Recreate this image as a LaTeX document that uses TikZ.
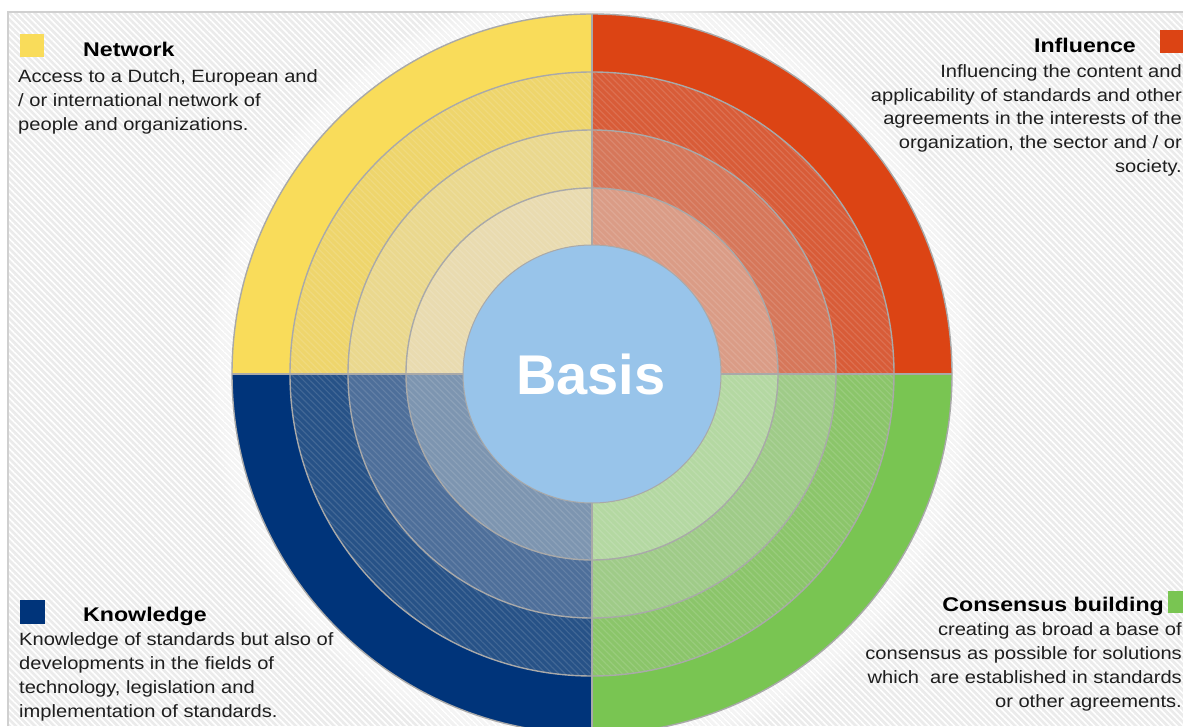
\documentclass[tikz,border=0pt]{standalone}
\usepackage{fontspec}
\setmainfont{Liberation Sans}
\newfontfamily\bodyfont[FakeStretch=1.13]{Liberation Sans}
\newfontfamily\titlefont[FakeStretch=1.17]{Liberation Sans}
\usetikzlibrary{patterns.meta}
\definecolor{bgc}{HTML}{EBEBEB}
\definecolor{linec}{HTML}{D0D0D0}
\definecolor{ringc}{HTML}{A9A9A9}
\definecolor{txtc}{HTML}{1E1E1E}
\definecolor{yA}{HTML}{F9DC5A}\definecolor{yB}{HTML}{EED56C}\definecolor{yC}{HTML}{EAD88E}\definecolor{yD}{HTML}{E9DBB0}
\definecolor{rA}{HTML}{DC4414}\definecolor{rB}{HTML}{D85C38}\definecolor{rC}{HTML}{D6775A}\definecolor{rD}{HTML}{DA9C86}
\definecolor{gA}{HTML}{79C552}\definecolor{gB}{HTML}{8BC56A}\definecolor{gC}{HTML}{9FCB88}\definecolor{gD}{HTML}{B4D8A2}
\definecolor{bA}{HTML}{00347A}\definecolor{bB}{HTML}{275287}\definecolor{bC}{HTML}{4E6F9A}\definecolor{bD}{HTML}{7D95B0}
\definecolor{centc}{HTML}{98C4EA}
\begin{document}
\begin{tikzpicture}[x=1pt,y=1pt,
  body/.style={inner sep=0pt, font=\bodyfont\fontsize{17.8}{24}\selectfont, text=txtc},
  title/.style={inner sep=0pt, font=\titlefont\fontsize{19.8}{22}\selectfont\bfseries, text=black},
  ringline/.style={draw=ringc, line width=1.4pt}]
\useasboundingbox (0,0) rectangle (1183,726);
\clip (0,0) rectangle (1183,726);
% background panel
\fill[bgc] (8,0) rectangle (1183,714);
\fill[pattern={Lines[angle=135, distance=4.5pt, line width=1.6pt]}, pattern color=white] (8,0) rectangle (1183,714);
\draw[linec, line width=1.2pt] (8,0) -- (8,714) -- (1183,714);
\coordinate (C) at (592,352);
% halo
\foreach \k in {1,...,14}{\fill[white, opacity=0.09] (C) circle[radius=360+2*\k];}
% sectors
\foreach \r/\y/\red/\g/\b in {360/yA/rA/gA/bA, 302/yB/rB/gB/bB, 244/yC/rC/gC/bC, 186/yD/rD/gD/bD}{
  \fill[\red] (C) -- ++(0:\r) arc[start angle=0, end angle=90, radius=\r] -- cycle;
  \fill[\y] (C) -- ++(90:\r) arc[start angle=90, end angle=180, radius=\r] -- cycle;
  \fill[\b] (C) -- ++(180:\r) arc[start angle=180, end angle=270, radius=\r] -- cycle;
  \fill[\g] (C) -- ++(270:\r) arc[start angle=270, end angle=360, radius=\r] -- cycle;
}
% faint hatching on inner rings
\fill[pattern={Lines[angle=135, distance=4.5pt, line width=1.2pt]}, pattern color=white, opacity=0.12] (C) circle[radius=302];
\foreach \r in {360,302,244,186}{\draw[ringline] (C) circle[radius=\r];}
\draw[ringline] (C) ++(0,-360) -- ++(0,720);
\draw[ringline] (C) ++(-360,0) -- ++(720,0);
\node[circle, fill=centc, draw=ringc, line width=1pt, minimum size=258pt, inner sep=0pt] (basis) at (C) {};
\node[inner sep=0pt, font=\fontsize{56}{60}\selectfont\bfseries, text=white, anchor=base] (basistext) at (591,331) {Basis};
% Network
\fill[yA] (20,669) rectangle (44,692);
\node[title, anchor=base west] (nett) at (83,669) {Network};
\node[body, anchor=base west] (net1) at (18,643) {Access to a Dutch, European and};
\node[body, anchor=base west] (net2) at (18,619) {/ or international network of};
\node[body, anchor=base west] (net3) at (18,595) {people and organizations.};
% Influence
\fill[rA] (1160,673) rectangle (1183,696);
\node[title, anchor=base east] (inft) at (1136,673) {Influence};
\node[body, anchor=base east] (inf1) at (1182,648) {Influencing the content and};
\node[body, anchor=base east] (inf2) at (1182,624) {applicability of standards and other};
\node[body, anchor=base east] (inf3) at (1182,601) {agreements in the interests of the};
\node[body, anchor=base east] (inf4) at (1182,577) {organization, the sector and / or};
\node[body, anchor=base east] (inf5) at (1182,553) {society.};
% Knowledge
\fill[bA] (20,102) rectangle (45,126);
\node[title, anchor=base west] (knot) at (83,105) {Knowledge};
\node[body, anchor=base west] (kno1) at (19,81) {Knowledge of standards but also of};
\node[body, anchor=base west] (kno2) at (19,57) {developments in the fields of};
\node[body, anchor=base west] (kno3) at (19,33) {technology, legislation and};
\node[body, anchor=base west] (kno4) at (19,9) {implementation of standards.};
% Consensus building
\fill[gA] (1168,113) rectangle (1183,135);
\node[title, anchor=base east] (cont) at (1164,115) {Consensus building};
\node[body, anchor=base east] (con1) at (1182,91) {creating as broad a base of};
\node[body, anchor=base east] (con2) at (1182,67) {consensus as possible for solutions};
\node[body, anchor=base east] (con3) at (1182,43) {which\ \ are established in standards};
\node[body, anchor=base east] (con4) at (1182,19) {or other agreements.};
\end{tikzpicture}
\end{document}
